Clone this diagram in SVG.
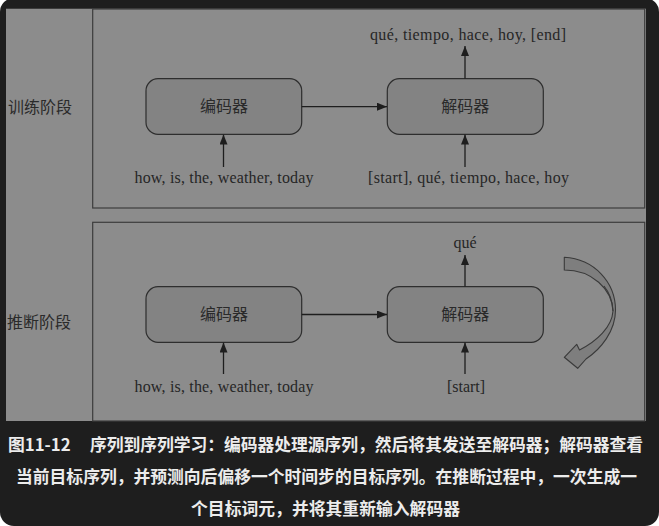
<svg xmlns="http://www.w3.org/2000/svg" width="659" height="526" viewBox="0 0 659 526">
<defs>
<style>
.panel{fill:#8c8c8c;stroke:none}
.frame{fill:none;stroke:#3c3c3c;stroke-width:1.2}
.box{fill:#838383;stroke:#2e2e2e;stroke-width:1.2}
.lbl{font-family:"Liberation Serif","Noto Sans CJK SC",serif;font-size:16px;fill:#262626}
.cjk{font-family:"Noto Sans CJK SC","Noto Sans CJK JP",sans-serif;font-size:16px;fill:#2a2a2a}
.edge{stroke:#1e1e1e;stroke-width:1.3;fill:none;marker-end:url(#ah)}
.cap{font-family:"Noto Sans CJK SC","Noto Sans CJK JP",sans-serif;font-size:16.8px;font-weight:700;fill:#ececec}
</style>
<marker id="ah" markerUnits="userSpaceOnUse" markerWidth="10" markerHeight="8" refX="10" refY="4" orient="auto">
<path d="M0,0 L10,4 L0,8 z" fill="#1e1e1e"/>
</marker>
</defs>
<rect x="0" y="0" width="659" height="526" fill="#ffffff"/>
<rect x="0" y="-2" width="659" height="528" rx="14" fill="#1e1e1e"/>
<rect class="panel" x="6" y="8" width="640" height="413"/>
<line x1="6" y1="8.5" x2="646" y2="8.5" stroke="#3c3c3c" stroke-width="1.2"/>
<g id="train-frame"><rect class="frame" x="92.7" y="9" width="552" height="199"/></g>
<g id="infer-frame"><rect class="frame" x="92.7" y="222.3" width="552" height="198.7"/></g>
<g id="label-train"><text class="cjk" x="8" y="113">训练阶段</text></g>
<g id="label-infer"><text class="cjk" x="7" y="328">推断阶段</text></g>

<g id="enc1"><rect class="box" x="146" y="78.7" width="155.7" height="55.6" rx="12"/><text class="cjk" x="224" y="112" text-anchor="middle">编码器</text></g>
<g id="dec1"><rect class="box" x="387.3" y="78.7" width="156" height="55.6" rx="12"/><text class="cjk" x="465.3" y="112" text-anchor="middle">解码器</text></g>
<g id="enc2"><rect class="box" x="146" y="286.7" width="155.7" height="55.6" rx="12"/><text class="cjk" x="224" y="320" text-anchor="middle">编码器</text></g>
<g id="dec2"><rect class="box" x="387.3" y="286.7" width="156" height="55.6" rx="12"/><text class="cjk" x="465.3" y="320" text-anchor="middle">解码器</text></g>

<g id="txt-in1"><text class="lbl" x="224" y="183" text-anchor="middle" textLength="179">how, is, the, weather, today</text></g>
<g id="txt-din1"><text class="lbl" x="468.5" y="183" text-anchor="middle" textLength="201">[start], qué, tiempo, hace, hoy</text></g>
<g id="txt-out1"><text class="lbl" x="468" y="40" text-anchor="middle" textLength="196">qué, tiempo, hace, hoy, [end]</text></g>
<g id="txt-in2"><text class="lbl" x="224" y="391.5" text-anchor="middle" textLength="179">how, is, the, weather, today</text></g>
<g id="txt-din2"><text class="lbl" x="466" y="391.5" text-anchor="middle">[start]</text></g>
<g id="txt-out2"><text class="lbl" x="465" y="247.5" text-anchor="middle">qué</text></g>

<g id="connectors">
<line class="edge" x1="223.5" y1="167" x2="223.5" y2="134.5"/>
<line class="edge" x1="301.7" y1="106.7" x2="387" y2="106.7"/>
<line class="edge" x1="465" y1="78.5" x2="465" y2="46"/>
<line class="edge" x1="465" y1="167" x2="465" y2="134.5"/>
<line class="edge" x1="223.5" y1="374" x2="223.5" y2="342.5"/>
<line class="edge" x1="301.7" y1="314.5" x2="387" y2="314.5"/>
<line class="edge" x1="465" y1="286.5" x2="465" y2="255"/>
<line class="edge" x1="465" y1="374" x2="465" y2="342.5"/>
</g>

<g id="loop-arrow" stroke="#3a3a3a" stroke-width="1.1" stroke-linejoin="round">
<path d="M564.3,257.3 C594,259 615.5,282 615.5,310 C615.5,331 601,349 586,359 L577.7,368.3 L564.3,357.3 L576.7,344.3 L579.5,350 C597,341 612,327 613,311 C612,289 592,270 564.3,270 Z" fill="#7e7e7e"/>
<path d="M613,311 C612.5,300 609,292 604,286" fill="none"/>
</g>

<g id="caption">
<text class="cap" x="8" y="451">图11-12</text>
<text class="cap" x="90" y="451" textLength="553">序列到序列学习：编码器处理源序列，然后将其发送至解码器；解码器查看</text>
<text class="cap" x="326.5" y="483" text-anchor="middle" textLength="621">当前目标序列，并预测向后偏移一个时间步的目标序列。在推断过程中，一次生成一</text>
<text class="cap" x="325.5" y="515" text-anchor="middle" textLength="269">个目标词元，并将其重新输入解码器</text>
</g>
</svg>
